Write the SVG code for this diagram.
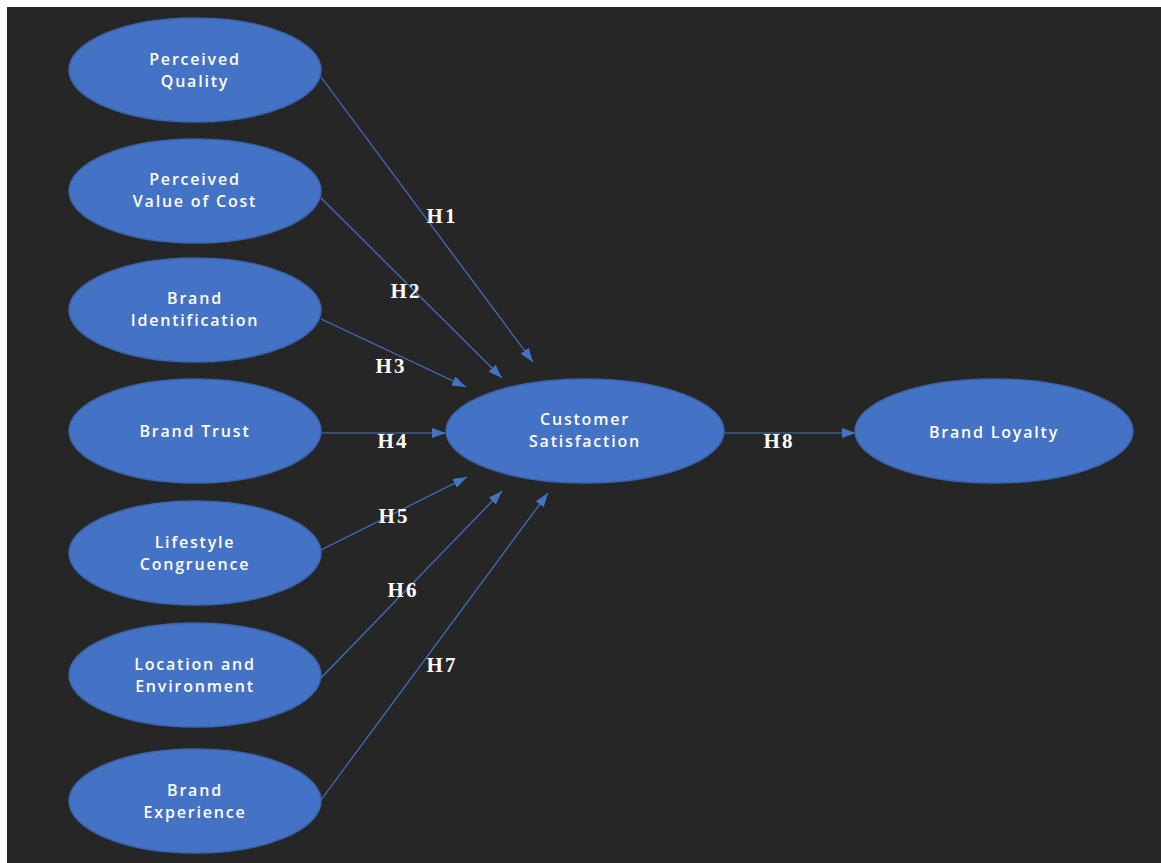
<svg xmlns="http://www.w3.org/2000/svg" width="1161" height="863" viewBox="0 0 1161 863">
<style>
.node ellipse{fill:#4472C4;stroke:#3A64AE;stroke-width:1.5}
.node text{fill:#FFFFFF;font-family:"Open Sans","DejaVu Sans",sans-serif;font-weight:600;font-size:16px;letter-spacing:1.8px;text-anchor:middle}
.lbl{fill:#FFFFFF;font-family:"Liberation Serif","Times New Roman",serif;font-weight:bold;font-size:21px;letter-spacing:2px;text-anchor:middle}
.edge{stroke:#4472C4;stroke-width:1.2;fill:none;marker-end:url(#ah)}
</style>
<defs>
<marker id="ah" viewBox="0 0 14 10" refX="14" refY="5" markerWidth="14" markerHeight="10" markerUnits="userSpaceOnUse" orient="auto">
<path d="M0,0 L14,5 L0,10 Z" fill="#4472C4"/>
</marker>
</defs>
<rect x="0" y="0" width="1161" height="863" fill="#FFFFFF"/>
<rect x="7" y="7" width="1154" height="856" fill="#262626"/>
<g id="connectors">
<line class="edge" x1="321" y1="77" x2="533" y2="362"/>
<line class="edge" x1="321" y1="198" x2="502" y2="378"/>
<line class="edge" x1="321" y1="319" x2="466" y2="387"/>
<line class="edge" x1="321" y1="433" x2="446" y2="433"/>
<line class="edge" x1="321" y1="550" x2="467" y2="477"/>
<line class="edge" x1="321" y1="678" x2="502" y2="491"/>
<line class="edge" x1="321" y1="800" x2="548" y2="493"/>
<line class="edge" x1="724" y1="433" x2="856" y2="433"/>
<text class="lbl" x="442" y="223">H1</text>
<text class="lbl" x="406" y="298">H2</text>
<text class="lbl" x="391" y="373">H3</text>
<text class="lbl" x="393" y="448">H4</text>
<text class="lbl" x="394" y="523">H5</text>
<text class="lbl" x="403" y="597">H6</text>
<text class="lbl" x="442" y="672">H7</text>
<text class="lbl" x="779" y="448">H8</text>
</g>
<g id="perceived-quality" class="node"><ellipse cx="195" cy="70" rx="126" ry="52"/><text x="195" y="65">Perceived</text><text x="195" y="87">Quality</text></g>
<g id="perceived-value" class="node"><ellipse cx="195" cy="191" rx="126" ry="52"/><text x="195" y="185">Perceived</text><text x="195" y="207">Value of Cost</text></g>
<g id="brand-identification" class="node"><ellipse cx="195" cy="310" rx="126" ry="52"/><text x="195" y="304">Brand</text><text x="195" y="326">Identification</text></g>
<g id="brand-trust" class="node"><ellipse cx="195" cy="431" rx="126" ry="52"/><text x="195" y="437">Brand Trust</text></g>
<g id="lifestyle" class="node"><ellipse cx="195" cy="553" rx="126" ry="52"/><text x="195" y="548">Lifestyle</text><text x="195" y="570">Congruence</text></g>
<g id="location" class="node"><ellipse cx="195" cy="675" rx="126" ry="52"/><text x="195" y="670">Location and</text><text x="195" y="692">Environment</text></g>
<g id="brand-experience" class="node"><ellipse cx="195" cy="801" rx="126" ry="52"/><text x="195" y="796">Brand</text><text x="195" y="818">Experience</text></g>
<g id="customer-satisfaction" class="node"><ellipse cx="585" cy="431" rx="139" ry="52"/><text x="585" y="425">Customer</text><text x="585" y="447">Satisfaction</text></g>
<g id="brand-loyalty" class="node"><ellipse cx="994" cy="431" rx="139" ry="52"/><text x="994" y="438">Brand Loyalty</text></g>
</svg>
